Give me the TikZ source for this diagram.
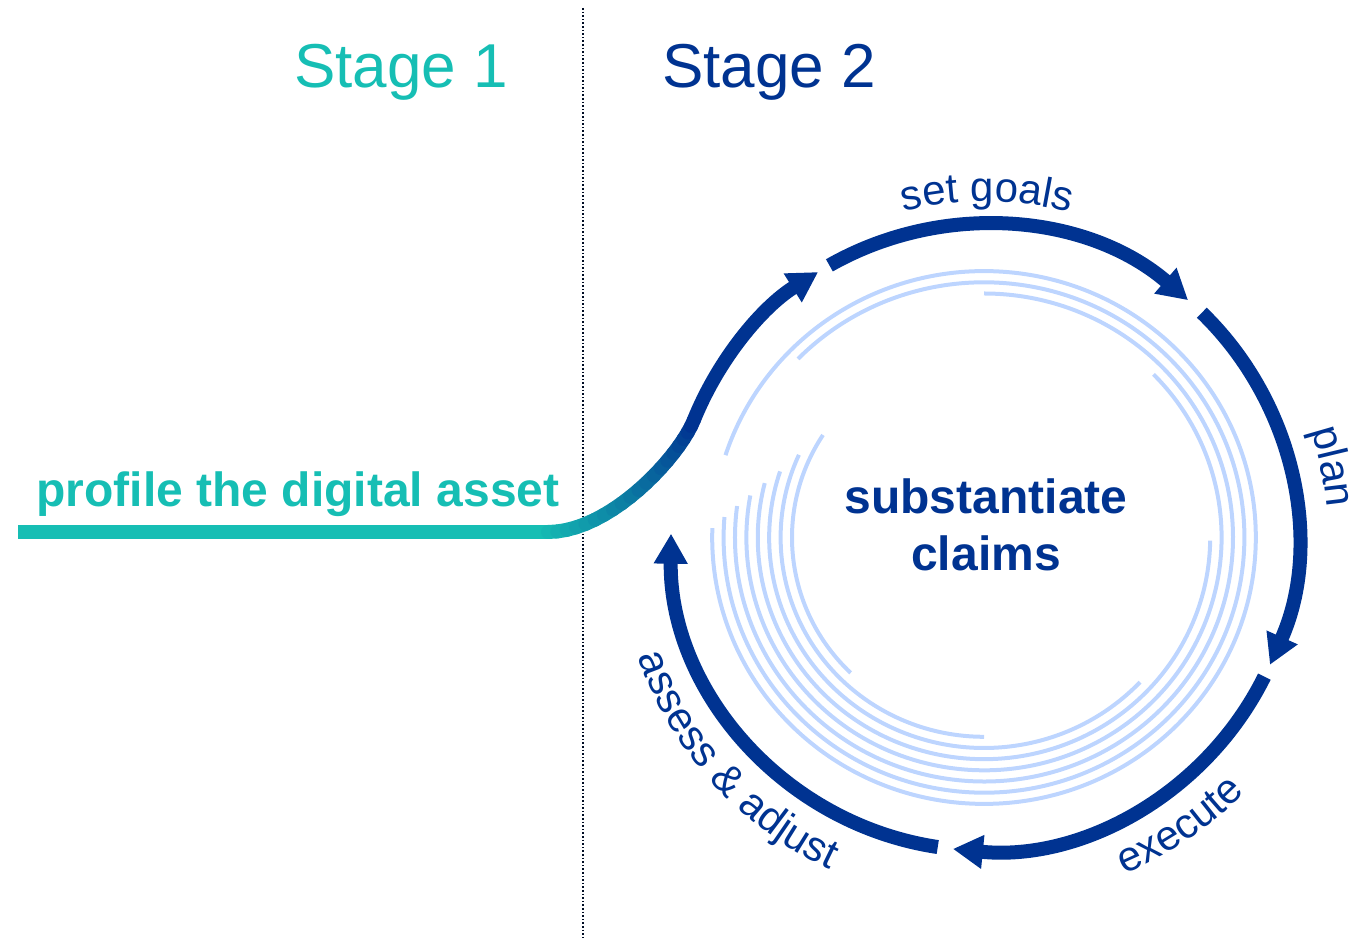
\documentclass[tikz,border=0pt]{standalone}
\usepackage{fontspec}
\setmainfont{Liberation Sans}
\usetikzlibrary{arrows.meta,decorations.text}

\definecolor{navy}{RGB}{0,51,145}
\definecolor{stageteal}{RGB}{22,190,180}
\definecolor{ringblue}{RGB}{189,213,255}
\newcommand{\labelfont}{\fontsize{42}{50}\selectfont}

\begin{document}
\begin{tikzpicture}[x=1pt,y=1pt,
    loop arc/.style={draw=navy,line width=14pt,-{Triangle[length=30pt,width=32pt]}},
    ring/.style={draw=ringblue,line width=4pt},
    loop label/.style={decorate,decoration={text along path,text align=center,
        text={|\labelfont\color{navy}|#1}}}]
  \useasboundingbox (0,0) rectangle (1357,944);
  \coordinate (C) at (984,406.5);

  % headings and divider
  \node[anchor=base,text=stageteal,font=\fontsize{62}{74}\selectfont] (stage1) at (401,856) {Stage 1};
  \node[anchor=base,text=navy,font=\fontsize{62}{74}\selectfont] (stage2) at (769,856) {Stage 2};
  \coordinate (divtop) at (583,936);
  \coordinate (divbot) at (583,4);
  \draw[black!75!navy,line width=1.6pt,dotted] (divtop) -- (divbot);

  % light rings
  \foreach \rx/\ry/\a/\b in {192/188.2/147/226, 203.4/199.3/155.5/270,
      214.8/210.5/161.7/316.6, 226.2/221.7/165.8/359.2, 237.6/232.8/169.6/404.5,
      249/244/172.6/450, 260.4/255.2/175.4/495.6, 271.8/266.4/178/522}
    \draw[ring] (C) ++({\rx*cos(\a)},{\ry*sin(\a)}) arc[start angle=\a,end angle=\b,x radius=\rx,y radius=\ry];

  % the loop
  \draw[loop arc] (C) ++(119.6:313) arc[start angle=119.6,end angle=49.3,radius=313];
  \draw[loop arc] (C) ++(45.9:313) arc[start angle=45.9,end angle=-24,radius=313];
  \draw[loop arc] (C) ++(-26.4:313) arc[start angle=-26.4,end angle=-95.7,radius=313];
  \draw[loop arc] (C) ++(-98.5:313) arc[start angle=-98.5,end angle=-180.7,radius=313];

  % stage 1 lead-in
  \coordinate (lead) at (18,412);
  \coordinate (bend) at (548,412);
  \path (C) ++(158:313) coordinate (join);
  \draw[stageteal,line width=14pt] (lead) -- (bend);
  \foreach \i in {0,...,20}
    \path (bend) .. controls +(62,0) and +(-15,-37) .. (join) coordinate[pos=\i/20] (g\i);
  \foreach \i in {1,...,20}{
    \pgfmathtruncatemacro{\j}{\i-1}
    \pgfmathtruncatemacro{\mix}{100-5*\i}
    \draw[stageteal!\mix!navy,line width=14pt,line cap=round] (g\j) -- (g\i);
  }
  \draw[loop arc] (join) arc[start angle=158,end angle=122,radius=313];

  % step labels
  \path[loop label={set goals}] (C) ++(125:336) arc[start angle=125,end angle=54,radius=336];
  \path[loop label={plan}] (C) ++(43:344) arc[start angle=43,end angle=-20,radius=344];
  \path[loop label={execute}] (C) ++(-90:365) arc[start angle=-90,end angle=-21.6,radius=365];
  \path[loop label={assess {\&} adjust}] (C) ++(180:366) arc[start angle=180,end angle=264,radius=366];

  \node[anchor=base,text=stageteal,font=\fontsize{48}{57}\selectfont\bfseries] (asset) at (298,437) {profile the digital asset};
  \node[align=center,text=navy,font=\fontsize{48}{57}\selectfont\bfseries] (claims) at (986,419.5) {substantiate\\claims};
\end{tikzpicture}
\end{document}
